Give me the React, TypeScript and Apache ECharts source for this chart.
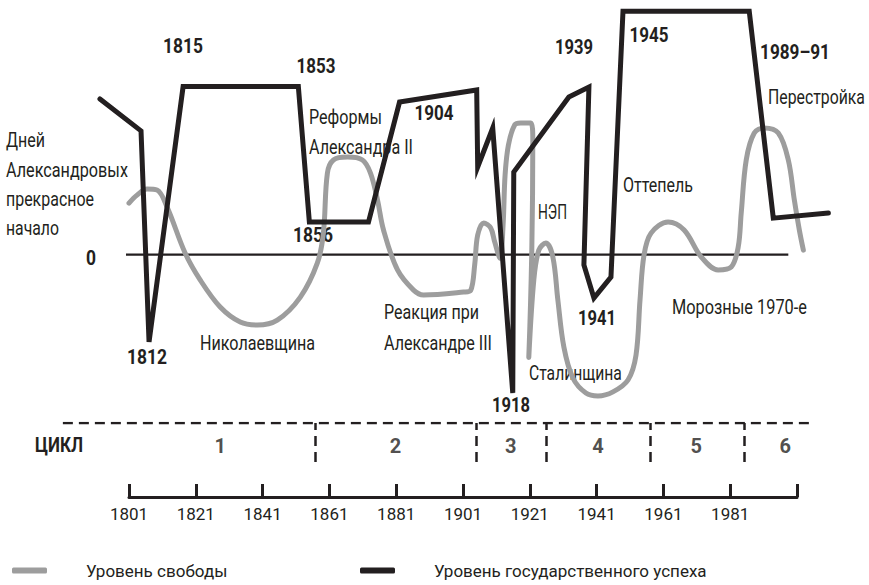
import React, { useEffect, useRef } from "react";
import * as echarts from "echarts";

// ---------- data ----------
const BASE_YEAR = 1801;
const AXIS_END_YEAR = 2001;
const TICK_STEP = 20;

// Уровень свободы (gray, smooth)
const freedomYears = [
  1801.0, 1803.4, 1806.4, 1809.4, 1812.4, 1817.8, 1822.3, 1828.3, 1834.3, 1839.4,
  1845.4, 1852.3, 1857.4, 1859.2, 1860.4, 1862.2, 1866.4, 1870.9, 1873.3, 1875.4,
  1877.2, 1881.4, 1886.2, 1889.2, 1901.2, 1903.3, 1904.5, 1905.4, 1907.2, 1909.3,
  1910.5, 1912.1, 1913.0, 1913.6, 1914.6, 1916.5, 1918.3, 1921.3, 1921.9, 1921.6,
  1920.7, 1922.2, 1923.7, 1925.8, 1927.9, 1929.4, 1931.2, 1933.9, 1937.8, 1941.4,
  1945.9, 1950.4, 1952.8, 1954.0, 1955.2, 1957.3, 1962.4, 1967.2, 1972.3, 1977.4,
  1981.3, 1983.4, 1984.3, 1985.8, 1988.2, 1991.2, 1995.4, 1998.4, 2000.2, 2001.7,
  2002.9,
];
const freedomValues = [
  21.3, 24.6, 27.1, 26.7, 19.7, 0.7, -10.4, -21.6, -27.8, -29.0,
  -27.0, -17.5, -3.4, 8.9, 33.7, 39.1, 40.3, 39.1, 33.7, 22.6,
  10.2, -6.3, -14.6, -16.6, -15.4, -14.7, -4.2, 8.1, 13.1, 11.0,
  5.2, -1.5, 12.2, 32.9, 45.3, 53.6, 54.4, 54.4, 47.3, 1.9,
  -42.4, -10.4, 1.9, 4.8, -0.9, -18.7, -38.1, -50.9, -57.1, -58.3,
  -56.6, -51.7, -41.4, -18.7, -0.1, 8.9, 13.5, 10.2, -0.9, -6.3,
  -5.1, 3.2, 17.2, 39.1, 50.2, 52.3, 50.2, 39.1, 22.6, 10.2,
  1.9,
];

// Уровень государственного успеха (black, broken line)
const successYears = [
  1792.3, 1804.6, 1807.0, 1817.2, 1851.7, 1855.0, 1872.7, 1882.0, 1905.1, 1905.4,
  1909.9, 1915.9, 1916.2, 1932.7, 1938.7, 1937.2, 1940.2, 1945.3, 1948.9, 1986.7,
  1993.9, 2010.4,
];
const successValues = [
  64.3, 51.1, -36.0, 69.4, 69.4, 13.5, 13.5, 63.0, 68.0, 36.2,
  52.3, -57.1, 34.1, 65.1, 69.2, -4.2, -17.9, -9.2, 100.5, 100.5,
  15.1, 17.2,
];

// zero line extent
const zeroLineYears = [1800.1, 1998.4];

// cycles
const cycleBorders = [1856.8, 1905.1, 1926.0, 1957.0, 1985.2];
const cycleNames = ["1", "2", "3", "4", "5", "6"];
const cycleCenters = [1828.3, 1880.8, 1915.3, 1941.4, 1970.8, 1997.5];
const cycleBandYears = [1781.2, 2004.7];

const seriesNames = ["Уровень свободы", "Уровень государственного успеха"];

// ---------- layout & styles ----------
const BLACK = "#231f20";
const GRAY = "#9d9d9d";
const FONT = "Roboto, 'Noto Sans', sans-serif";
const REG = 21;
const BOLD = 21;

const AXIS_LEFT = 129;
const AXIS_RIGHT_PX = 797;
const PX_PER_YEAR = (AXIS_RIGHT_PX - AXIS_LEFT) / (AXIS_END_YEAR - BASE_YEAR);
const DATA_MIN = -20; // years relative to BASE_YEAR
const DATA_MAX = 215;
const DATA_LEFT = AXIS_LEFT + DATA_MIN * PX_PER_YEAR;
const DATA_RIGHT = 869 - (AXIS_RIGHT_PX + (DATA_MAX - (AXIS_END_YEAR - BASE_YEAR)) * PX_PER_YEAR);

const off = (y: number) => y - BASE_YEAR;

type Note = { t: string; x: number; y: number; w: number; b?: boolean; a?: "left" | "center" };
const notes: Note[] = [
  { t: "1815", x: 183, y: 46, w: 40, b: true, a: "center" },
  { t: "1853", x: 316, y: 66, w: 39, b: true, a: "center" },
  { t: "1904", x: 434, y: 113, w: 39, b: true, a: "center" },
  { t: "1856", x: 313, y: 235, w: 40, b: true, a: "center" },
  { t: "1812", x: 147, y: 357, w: 40, b: true, a: "center" },
  { t: "1918", x: 511, y: 405, w: 38, b: true, a: "center" },
  { t: "1939", x: 574, y: 47, w: 38, b: true, a: "center" },
  { t: "1945", x: 649, y: 35, w: 39, b: true, a: "center" },
  { t: "1989–91", x: 795, y: 52, w: 70, b: true, a: "center" },
  { t: "1941", x: 597, y: 318, w: 38, b: true, a: "center" },
  { t: "0", x: 91, y: 258, w: 10, b: true, a: "center" },
  { t: "ЦИКЛ", x: 35, y: 445, w: 48, b: true },
  { t: "Дней", x: 6, y: 140, w: 39 },
  { t: "Александровых", x: 6, y: 170, w: 122 },
  { t: "прекрасное", x: 6, y: 199, w: 88 },
  { t: "начало", x: 6, y: 228, w: 53 },
  { t: "Николаевщина", x: 200, y: 343, w: 115 },
  { t: "Реформы", x: 309, y: 117, w: 73 },
  { t: "Александра II", x: 309, y: 147, w: 104 },
  { t: "Реакция при", x: 384, y: 312, w: 95 },
  { t: "Александре III", x: 384, y: 343, w: 108 },
  { t: "НЭП", x: 538, y: 212, w: 29 },
  { t: "Сталинщина", x: 529, y: 373, w: 93 },
  { t: "Оттепель", x: 623, y: 185, w: 70 },
  { t: "Морозные 1970-е", x: 672, y: 307, w: 135 },
  { t: "Перестройка", x: 768, y: 97, w: 97 },
];

function measure(text: string, bold: boolean, size: number): number {
  const c = document.createElement("canvas").getContext("2d");
  if (!c) return 0;
  c.font = `${bold ? "bold" : "normal"} ${size}px ${FONT}`;
  return c.measureText(text).width;
}

export default function App() {
  const ref = useRef<HTMLDivElement>(null);

  useEffect(() => {
    if (!ref.current) return;
    const chart = echarts.init(ref.current, undefined, { renderer: "svg" });

    const legendText = (left: number) => ({
      left,
      top: 557,
      itemWidth: 35,
      itemHeight: 6,
      icon: "roundRect",
      formatter: "{a|{name}}",
      textStyle: {
        color: BLACK,
        rich: { a: { fontFamily: FONT, fontSize: 17, color: BLACK, padding: [0, 0, 0, 34] } },
      },
    });

    chart.setOption({
      animation: false,
      grid: [
        { left: DATA_LEFT, right: DATA_RIGHT, top: 10, bottom: 88 },
        { left: DATA_LEFT, right: DATA_RIGHT, top: 423, height: 39 },
        { left: AXIS_LEFT, right: 869 - AXIS_RIGHT_PX, top: 10, bottom: 88 },
      ],
      xAxis: [
        { type: "value", gridIndex: 0, min: DATA_MIN, max: DATA_MAX, show: false },
        { type: "value", gridIndex: 1, min: DATA_MIN, max: DATA_MAX, show: false },
        {
          type: "value",
          gridIndex: 2,
          min: 0,
          max: AXIS_END_YEAR - BASE_YEAR,
          interval: TICK_STEP,
          splitLine: { show: false },
          axisLine: { show: true, onZero: false, lineStyle: { color: BLACK, width: 3 } },
          axisTick: { show: true, inside: true, length: 13, lineStyle: { color: BLACK, width: 3 } },
          axisLabel: {
            color: BLACK,
            fontFamily: FONT,
            fontSize: 17,
            margin: 8,
            formatter: (v: number) => (v + BASE_YEAR >= AXIS_END_YEAR ? "" : String(v + BASE_YEAR)),
          },
        },
      ],
      yAxis: [
        { type: "value", gridIndex: 0, min: -100, max: 101, show: false },
        { type: "value", gridIndex: 1, min: 0, max: 1, show: false },
        { type: "value", gridIndex: 2, min: -100, max: 101, show: false },
      ],
      legend: [
        { ...legendText(7), data: [seriesNames[0]] },
        { ...legendText(355), data: [seriesNames[1]] },
      ],
      series: [
        {
          name: "zero",
          type: "line",
          xAxisIndex: 0,
          yAxisIndex: 0,
          data: zeroLineYears.map((y) => [off(y), 0]),
          symbol: "none",
          silent: true,
          lineStyle: { color: BLACK, width: 2.2 },
        },
        {
          name: seriesNames[0],
          type: "line",
          xAxisIndex: 0,
          yAxisIndex: 0,
          data: freedomYears.map((y, i) => [off(y), freedomValues[i]]),
          smooth: 0.35,
          symbol: "none",
          itemStyle: { color: GRAY },
          lineStyle: { color: GRAY, width: 5, cap: "round", join: "round" },
        },
        {
          name: seriesNames[1],
          type: "line",
          xAxisIndex: 0,
          yAxisIndex: 0,
          data: successYears.map((y, i) => [off(y), successValues[i]]),
          symbol: "none",
          itemStyle: { color: BLACK },
          lineStyle: { color: BLACK, width: 5, cap: "round", join: "miter", miterLimit: 6 },
        },
        {
          name: "cycleTop",
          type: "line",
          xAxisIndex: 1,
          yAxisIndex: 1,
          data: cycleBandYears.map((y) => [off(y), 1]),
          symbol: "none",
          silent: true,
          lineStyle: { color: BLACK, width: 2.5, type: [10, 6] },
          markLine: {
            silent: true,
            symbol: "none",
            label: { show: false },
            lineStyle: { color: BLACK, width: 2.5, type: [10, 6] },
            data: cycleBorders.map((y) => ({ xAxis: off(y) })),
          },
        },
        {
          name: "cycles",
          type: "scatter",
          xAxisIndex: 1,
          yAxisIndex: 1,
          symbolSize: 0,
          silent: true,
          data: cycleCenters.map((y, i) => ({ name: cycleNames[i], value: [off(y), 0.42] })),
          label: {
            show: true,
            position: "inside",
            formatter: "{b}",
            color: BLACK,
            fontFamily: FONT,
            fontWeight: "bold",
            fontSize: 20,
          },
        },
      ],
      graphic: notes.map((n) => {
        const size = n.b ? BOLD : REG;
        const natural = measure(n.t, !!n.b, size);
        const sx = natural > 0 ? Math.min(1, n.w / natural) : 1;
        return {
          type: "text",
          x: n.x,
          y: n.y,
          scaleX: sx,
          silent: true,
          style: {
            text: n.t,
            fill: BLACK,
            fontFamily: FONT,
            fontSize: size,
            fontWeight: n.b ? "bold" : "normal",
            align: n.a || "left",
            verticalAlign: "middle",
          },
        };
      }),
    });

    return () => chart.dispose();
  }, []);

  return (
    <div
      ref={ref}
      style={{ position: "fixed", left: 0, top: 0, width: 869, height: 585, background: "#fff" }}
    />
  );
}
